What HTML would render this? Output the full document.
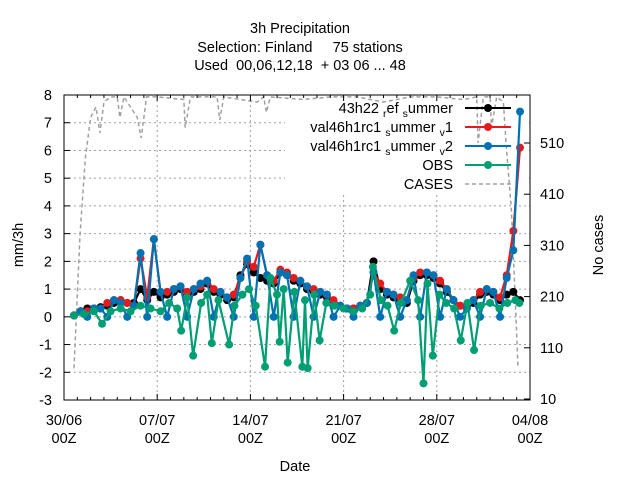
<!DOCTYPE html>
<html><head><meta charset="utf-8"><style>
body{margin:0;background:#fff}
svg{display:block;font-family:"Liberation Sans",sans-serif}
</style></head><body>
<svg id="chart" width="640" height="480" viewBox="0 0 640 480">
<rect width="640" height="480" fill="#fff"/>
<g font-size="14.5" text-anchor="middle" fill="#000">
<text x="300" y="33">3h Precipitation</text>
<text x="300" y="52" xml:space="preserve">Selection: Finland     75 stations</text>
<text x="300" y="70" xml:space="preserve">Used  00,06,12,18  + 03 06 ... 48</text>
</g>
<g id="grid"></g>
<rect x="285" y="96" width="244" height="98" fill="#fff"/>
<g id="series"></g>
<rect x="64" y="95" width="466" height="305" fill="none" stroke="#000" stroke-width="1"/>
<g id="axes" font-size="14.5" fill="#000"></g>
<text x="295" y="471" font-size="14.5" text-anchor="middle">Date</text>
<text transform="translate(23,245) rotate(-90)" font-size="14.5" text-anchor="middle">mm/3h</text>
<text transform="translate(603,245) rotate(-90)" font-size="14.5" text-anchor="middle">No cases</text>
<g id="legend" font-size="14.5"></g>
</svg>
<script>
const yTicks=[8,7,6,5,4,3,2,1,0,-1,-2,-3];
const y2Ticks=[510,410,310,210,110,10];
const xTickDays=[0,7,14,21,28,35];
const xTickLabels=["30/06","07/07","14/07","21/07","28/07","04/08"];
const t0=0.75, dt=0.5;
const refVals=[0.05,0.2,0.3,0.3,0.35,0.4,0.5,0.6,0.5,0.5,1.0,0.6,0.9,0.7,0.8,0.9,1.0,0.8,0.9,1.0,1.2,0.9,0.8,0.6,0.7,1.5,1.9,1.6,1.4,1.3,1.2,1.6,1.5,1.3,1.2,1.0,0.9,0.8,0.7,0.5,0.4,0.3,0.3,0.4,0.5,2.0,1.0,0.8,0.7,0.6,0.5,1.3,1.5,1.5,1.4,1.2,0.9,0.6,0.4,0.3,0.5,0.8,0.9,0.8,0.6,0.8,0.9,0.6];
const v1Vals=[0.05,0.2,0.2,0.3,0.3,0.5,0.6,0.6,0.5,0.4,2.1,0.7,2.8,0.9,0.9,1.0,1.1,0.9,1.0,1.1,1.3,1.0,0.9,0.7,0.8,1.4,2.0,1.8,2.6,1.5,1.3,1.7,1.6,1.4,1.3,1.1,1.0,0.9,0.8,0.6,0.4,0.3,0.3,0.4,0.5,1.6,1.2,0.9,0.8,0.7,0.6,1.4,1.6,1.6,1.5,1.3,1.0,0.6,0.4,0.3,0.6,0.9,1.0,0.9,0.7,1.5,3.1,6.1];
const v2Vals=[0.05,0.2,0,0.3,0.3,0,0.6,0.5,0,0.4,2.3,0,2.8,0.9,0,1.0,1.1,0,1.0,1.2,1.3,0,0.9,0.7,0,1.4,2.1,0,2.6,1.5,0,1.6,1.5,0,1.3,1.1,0,0.9,0.8,0,0.4,0.3,0,0.4,0.5,1.6,0,0.9,0.8,0,0.6,1.5,0,1.6,1.5,0,1.0,0.6,0,0.3,0.6,0,1.0,0.9,0,1.4,2.4,7.4];
const obsDays=[0.75,1.5,2.25,2.86,3.5,4.25,5.0,5.75,6.5,7.25,7.9,8.5,8.8,9.25,9.7,10.3,10.75,11.1,11.6,12.4,12.8,13.4,13.9,14.4,15.1,15.5,16.0,16.2,16.5,16.8,17.3,17.9,18.1,18.3,18.8,19.2,19.7,20.3,21.0,21.7,22.4,23.0,23.2,23.8,24.3,24.8,25.3,26.0,26.6,27.0,27.3,27.7,28.2,28.7,29.3,29.8,30.3,30.8,31.3,32.0,32.7,33.3,33.9,34.2];
const obsVals=[0.05,0.1,0.2,-0.25,0.2,0.3,0.2,0.4,0.3,0.2,0.5,0.3,-0.5,0.7,-1.4,0.5,0.8,-0.95,0.6,-1.0,0.4,0.8,1.0,0.4,-1.8,1.4,0.8,-0.9,1.0,-1.65,0.9,-1.8,0.6,-1.85,0.8,-0.85,0.5,0.4,0.3,0.2,0.3,0.8,1.8,0.6,0.4,-0.5,0.5,1.3,0.6,-2.4,1.2,-1.4,0.8,0.5,0.3,-0.85,0.5,-1.2,0.4,0.5,0.3,0.5,0.6,0.5];
const caseDays=[0.75,1.2,1.6,2.0,2.4,2.7,3.0,3.5,4.0,4.2,4.5,5.5,5.8,6.2,7.0,9.0,9.1,9.5,11.5,11.7,12.0,14.5,15.0,15.2,15.5,18.0,20.0,22.0,24.0,26.0,28.0,30.0,31.0,31.1,31.5,32.0,32.1,32.5,33.0,33.2,33.6,33.9,34.1];
const caseVals=[70,330,480,560,580,530,590,600,600,560,600,560,520,600,600,595,540,600,600,555,600,590,600,570,600,595,600,600,590,600,600,595,600,510,600,600,540,600,590,510,380,200,70];

const NS="http://www.w3.org/2000/svg";
const X0=64,X1=530,Y0=95,Y1=400;
const xs=d=>X0+(X1-X0)*d/35;
const ys=v=>Y0+(Y1-Y0)*(8-v)/11;
const y2s=v=>399-(v-10)*0.512;
function mk(tag,attrs,parent){const e=document.createElementNS(NS,tag);for(const k in attrs)e.setAttribute(k,attrs[k]);parent.appendChild(e);return e;}
const grid=document.getElementById('grid'),axes=document.getElementById('axes'),series=document.getElementById('series'),legend=document.getElementById('legend');
yTicks.forEach(v=>{
  const y=ys(v);
  if(v<8&&v>-3){const g=mk('line',{x1:X0,x2:X1,y1:y,y2:y,stroke:'#a0a0a0','stroke-dasharray':'2,3','stroke-width':1},grid);
  
  }
  const tk=mk('line',{x1:X0,x2:X0+6,y1:y,y2:y,stroke:'#000'},axes);
  
  
  const t=mk('text',{x:X0-12,y:y+5,'text-anchor':'end'},axes);t.textContent=v;
  
  
});
y2Ticks.forEach(v=>{
  const y=y2s(v);
  const tk=mk('line',{x1:X1-6,x2:X1,y1:y,y2:y,stroke:'#000'},axes);
  
  
  const t=mk('text',{x:X1+10,y:y+5,'text-anchor':'start'},axes);t.textContent=v;
  
  
});
for(let d=1;d<35;d++){
  const x=xs(d);
  const tk=mk('line',{x1:x,x2:x,y1:Y1,y2:Y1-(d%7===0?6:3),stroke:'#000'},axes);
  
  
  const tk2=mk('line',{x1:x,x2:x,y1:Y0,y2:Y0+(d%7===0?6:3),stroke:'#000'},axes);
  
  
}
xTickDays.forEach((d,i)=>{
  const x=xs(d);
  if(d>0&&d<35){const g=mk('line',{x1:x,x2:x,y1:Y0,y2:Y1,stroke:'#a0a0a0','stroke-dasharray':'2,3'},grid);
  
  }
  const t=mk('text',{x:x,y:425,'text-anchor':'middle'},axes);t.textContent=xTickLabels[i];
  
  
  const t2=mk('text',{x:x,y:443,'text-anchor':'middle'},axes);t2.textContent='00Z';
  
  
});
const cp=caseDays.map((d,i)=>xs(d)+','+y2s(caseVals[i])).join(' ');
const cl=mk('polyline',{points:cp,fill:'none',stroke:'#a0a0a0','stroke-width':1.5,'stroke-dasharray':'4,3'},series);


function drawSeries(days,vals,color,name){
  const g=mk('g',{},series);
  
  
  const pl=mk('polyline',{points:days.map((d,i)=>xs(d)+','+ys(vals[i])).join(' '),fill:'none',stroke:color,'stroke-width':2.2},g);
  
  
  days.forEach((d,i)=>{
    const c=mk('circle',{cx:xs(d),cy:ys(vals[i]),r:4,fill:color},g);
    
    
  });
}
const modelDays=refVals.map((_,i)=>t0+i*dt);
drawSeries(modelDays,refVals,'#000000','ref');
drawSeries(modelDays,v1Vals,'#e41a1c','v1');
drawSeries(modelDays,v2Vals,'#0072b2','v2');
drawSeries(obsDays,obsVals,'#009e73','obs');
const leg=[[["43h22 ",0],["r",1],["ef ",0],["s",1],["ummer",0],"#000000",false],[["val46h1rc1 ",0],["s",1],["ummer ",0],["v",1],["1",0],"#e41a1c",false],[["val46h1rc1 ",0],["s",1],["ummer ",0],["v",1],["2",0],"#0072b2",false],[["OBS",0],null,null,null,null,"#009e73",false],[["CASES",0],null,null,null,null,"#a0a0a0",true]];
leg.forEach((e,i)=>{
  const y=108+i*19;
  const t=mk('text',{x:453,y:y+5,'text-anchor':'end'},legend);
  
  
  let prevSub=0;
  for(let k=0;k<5;k++){
    const p=e[k]; if(!p) continue;
    const dy=p[1]&&!prevSub?4:(!p[1]&&prevSub?-4:0);
    const s=mk('tspan',{dy:dy,'font-size':p[1]?'10.5':'14.5'},t);
    s.textContent=p[0];
    prevSub=p[1];
  }
  const ln=mk('line',{x1:465,x2:511,y1:y,y2:y,stroke:e[5],'stroke-width':e[6]?1.5:2,'stroke-dasharray':e[6]?'4,3':''},legend);
  
  
  if(!e[6]){const c=mk('circle',{cx:488,cy:y,r:4,fill:e[5]},legend);
  
  }
});
</script>
</body></html>
